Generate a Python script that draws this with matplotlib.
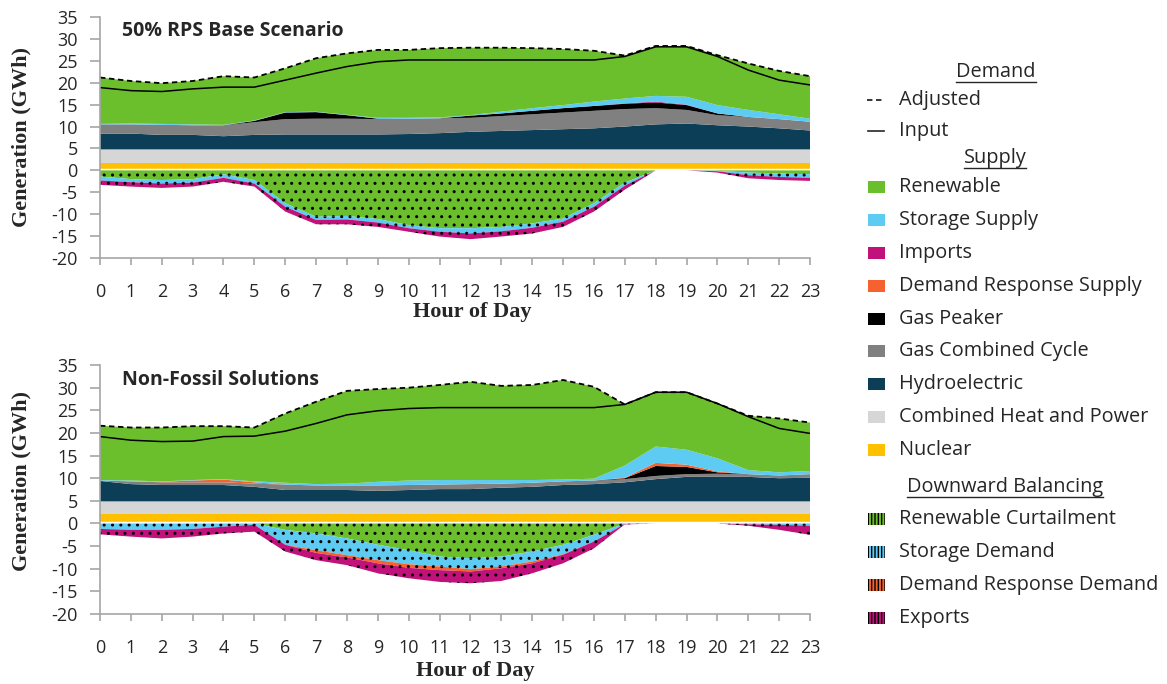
import numpy as np
import matplotlib.pyplot as plt
from matplotlib.patches import Rectangle
from matplotlib.lines import Line2D

plt.rcParams['font.family'] = ['Open Sans', 'DejaVu Sans']
plt.rcParams['axes.unicode_minus'] = False
plt.rcParams['hatch.linewidth'] = 1.0

hours = np.arange(24)

# ---- 50% RPS Base Scenario (GWh) ----
base_nuclear = [1.7] * 24
base_chp = [3.1] * 24
base_hydro = [3.6, 3.6, 3.3, 3.3, 3.0, 3.3, 3.4, 3.4, 3.4, 3.4, 3.5, 3.7,
              4.0, 4.2, 4.4, 4.6, 4.8, 5.2, 5.7, 5.9, 5.5, 5.2, 4.8, 4.3]
base_gas_cc = [2.1, 2.1, 2.3, 2.2, 2.5, 2.9, 3.5, 3.6, 3.6, 3.5, 3.5, 3.4,
               3.2, 3.4, 3.6, 3.8, 4.0, 4.0, 3.7, 3.1, 2.3, 2.2, 2.1, 2.0]
base_peaker = [0, 0, 0, 0, 0, 0.3, 1.5, 1.5, 0.8, 0.1, 0, 0,
               0.5, 0.6, 0.8, 1.0, 1.1, 1.2, 1.3, 1.1, 0.4, 0, 0, 0]
base_dr_supply = [0] * 24
base_imports = [0, 0, 0, 0, 0, 0, 0, 0, 0, 0, 0, 0,
                0, 0, 0, 0, 0, 0.1, 0.2, 0.1, 0, 0, 0, 0]
base_storage = [0.1, 0.2, 0.2, 0.2, 0.1, 0.1, 0.1, 0.1, 0.1, 0.2, 0.2, 0.2,
                0.1, 0.4, 0.6, 0.7, 1.0, 1.1, 1.3, 1.8, 1.9, 1.6, 1.1, 0.7]
base_renewable = [10.6, 9.7, 9.3, 9.9, 11.1, 9.8, 10.0, 12.2, 14.0, 15.5, 15.5, 15.8,
                  15.4, 14.6, 13.7, 12.8, 11.6, 9.8, 11.4, 11.6, 11.4, 10.6, 9.9, 9.7]
base_curtail = [1.4, 2.0, 2.2, 2.0, 0.9, 2.2, 7.5, 10.6, 10.4, 11.1, 12.5, 13.2,
                13.2, 12.9, 12.1, 11.0, 7.5, 2.8, 0, 0, 0.1, 0.5, 0.7, 0.9]
base_storage_dem = [0.9, 0.7, 0.8, 0.8, 0.8, 0.8, 0.8, 0.7, 0.8, 0.8, 0.7, 0.8,
                    1.2, 1.0, 1.0, 0.7, 0.8, 0.7, 0, 0, 0.1, 0.6, 0.8, 0.8]
base_dr_dem = [0] * 24
base_exports = [1.0, 1.0, 1.0, 0.9, 0.9, 0.7, 1.1, 1.0, 1.1, 1.0, 0.8, 1.1,
                1.3, 1.2, 1.3, 1.2, 1.1, 0.9, 0, 0, 0.3, 0.7, 0.7, 0.7]
base_adjusted = [21.2, 20.4, 19.9, 20.4, 21.5, 21.2, 23.3, 25.6, 26.7, 27.5, 27.5, 27.9,
                 28.0, 28.0, 27.9, 27.7, 27.3, 26.2, 28.4, 28.4, 26.3, 24.4, 22.7, 21.5]
base_input = [18.9, 18.2, 18.0, 18.6, 19.0, 19.0, 20.6, 22.2, 23.7, 24.8, 25.2, 25.2,
              25.2, 25.2, 25.2, 25.2, 25.2, 26.0, 28.2, 28.2, 26.0, 22.9, 20.6, 19.5]

# ---- Non-Fossil Solutions (GWh) ----
nf_nuclear = [2.0] * 24
nf_chp = [2.9] * 24
nf_hydro = [4.5, 3.8, 3.6, 3.6, 3.6, 3.2, 2.5, 2.5, 2.5, 2.3, 2.5, 2.7,
            2.7, 3.0, 3.2, 3.6, 3.8, 4.2, 4.9, 5.4, 5.4, 5.4, 5.1, 5.2]
nf_gas_cc = [0.1, 0.6, 0.6, 0.6, 0.6, 0.7, 1.2, 1.0, 1.0, 1.2, 1.1, 1.0,
             1.1, 0.9, 0.9, 0.8, 0.8, 0.7, 0.7, 0.6, 0.7, 0.6, 0.6, 0.8]
nf_peaker = [0, 0, 0, 0, 0, 0, 0, 0, 0, 0, 0, 0,
             0, 0, 0, 0, 0, 0.2, 2.2, 1.6, 0.3, 0, 0, 0]
nf_dr_supply = [0, 0, 0.1, 0.4, 0.6, 0.3, 0, 0, 0, 0, 0, 0,
                0, 0, 0, 0, 0, 0.1, 0.7, 0.5, 0.2, 0, 0, 0]
nf_imports = [0] * 24
nf_storage = [0.1, 0.2, 0.1, 0.1, 0.1, 0.2, 0.4, 0.3, 0.4, 0.8, 1.0, 1.0,
              0.9, 0.8, 0.6, 0.4, 0.4, 2.7, 3.6, 3.3, 2.9, 0.9, 0.7, 0.7]
nf_renewable = [12.0, 11.7, 11.9, 11.9, 11.7, 11.9, 15.3, 18.2, 20.5, 20.5, 20.5, 21.0,
                21.7, 20.8, 21.0, 22.0, 20.3, 13.5, 12.0, 12.7, 12.1, 12.0, 11.9, 10.7]
nf_curtail = [0, 0, 0, 0, 0, 0, 1.4, 2.2, 3.3, 4.7, 5.9, 7.3,
              7.7, 7.3, 6.2, 4.7, 2.5, 0, 0, 0, 0, 0, 0, 0]
nf_storage_dem = [1.2, 1.4, 1.4, 1.2, 0.7, 0.3, 3.3, 3.7, 3.7, 3.4, 3.1, 2.2,
                  2.4, 2.2, 2.2, 2.1, 1.5, 0.1, 0, 0, 0, 0.2, 0.3, 0.5]
nf_dr_dem = [0, 0, 0, 0, 0, 0, 0, 0.6, 0.5, 0.7, 0.8, 0.8,
             0.5, 0.4, 0.4, 0.1, 0, 0, 0, 0, 0, 0, 0, 0]
nf_exports = [1.2, 1.5, 1.9, 1.7, 1.5, 1.5, 1.5, 1.6, 1.7, 2.2, 2.3, 2.6,
              2.6, 2.8, 2.2, 1.9, 1.5, 0.1, 0, 0, 0, 0.3, 1.1, 2.0]
nf_adjusted = [21.6, 21.2, 21.2, 21.5, 21.5, 21.2, 24.3, 26.9, 29.3, 29.7, 30.0, 30.6,
               31.3, 30.4, 30.6, 31.7, 30.2, 26.3, 29.0, 29.0, 26.5, 23.8, 23.2, 22.3]
nf_input = [19.2, 18.4, 18.1, 18.2, 19.2, 19.3, 20.4, 22.1, 24.0, 24.9, 25.4, 25.6,
            25.6, 25.6, 25.6, 25.6, 25.6, 26.3, 29.0, 29.0, 26.5, 23.6, 21.0, 19.9]

supply_labels = ['Renewable', 'Storage Supply', 'Imports', 'Demand Response Supply',
                 'Gas Peaker', 'Gas Combined Cycle', 'Hydroelectric',
                 'Combined Heat and Power', 'Nuclear']
supply_colors = ['#6CBF2C', '#5DCBF2', '#C0127A', '#F5622F', '#000000',
                 '#808080', '#0C3F57', '#D6D6D6', '#FFC000']
down_labels = ['Renewable Curtailment', 'Storage Demand',
               'Demand Response Demand', 'Exports']
down_colors = ['#6CBF2C', '#5DCBF2', '#F5622F', '#C0127A']

TXT = '#262626'
AXC = '#A6A6A6'


def draw_panel(ax, supply, down, adjusted, demand_input, title, ylab_y, xlab_pos):
    # supply listed top-down like the legend, stack from the bottom
    base = np.zeros(24)
    for vals, col in reversed(list(zip(supply, supply_colors))):
        top = base + np.array(vals)
        ax.fill_between(hours, base, top, facecolor=col, edgecolor='none', lw=0)
        base = top
    ax.axhline(0, color='white', lw=2.5, zorder=1.5)
    base = np.zeros(24)
    for vals, col in zip(down, down_colors):
        bot = base - np.array(vals)
        ax.fill_between(hours, base, bot, facecolor=col, edgecolor='black',
                        lw=0, hatch='..', zorder=1.6)
        base = bot
    ax.plot(hours, adjusted, color='black', lw=1.3, ls=(0, (3, 2)))
    ax.plot(hours, demand_input, color='black', lw=1.1)

    ax.set_xlim(0, 23)
    ax.set_ylim(-20, 35)
    ax.set_xticks(hours)
    ax.set_yticks(np.arange(-20, 36, 5))
    for s in ['top', 'right']:
        ax.spines[s].set_visible(False)
    for s in ['left', 'bottom']:
        ax.spines[s].set_color(AXC)
        ax.spines[s].set_linewidth(1.2)
    ax.tick_params(axis='x', direction='out', length=5, width=1.2, color=AXC,
                   labelsize=13, labelcolor=TXT, pad=13)
    ax.tick_params(axis='y', direction='out', length=7, width=1.2, color=AXC,
                   labelsize=13, labelcolor=TXT, pad=9)
    ax.set_xlabel('Hour of Day', family='Liberation Serif', weight='bold',
                  fontsize=16, color=TXT, labelpad=0)
    ax.xaxis.set_label_coords(*xlab_pos)
    ax.set_ylabel('Generation (GWh)', family='Liberation Serif', weight='bold',
                  fontsize=16, color=TXT)
    ax.yaxis.set_label_coords(-0.096, ylab_y)
    ax.text(0.031, 0.94, title, transform=ax.transAxes, fontsize=14,
            weight='bold', color=TXT, va='center', ha='left')


fig = plt.figure(figsize=(11.67, 6.84), dpi=100)
ax1 = fig.add_axes([0.0857, 0.6228, 0.6084, 0.3523])
ax2 = fig.add_axes([0.0857, 0.1023, 0.6084, 0.3640])

draw_panel(ax1,
           [base_renewable, base_storage, base_imports, base_dr_supply, base_peaker,
            base_gas_cc, base_hydro, base_chp, base_nuclear],
           [base_curtail, base_storage_dem, base_dr_dem, base_exports],
           base_adjusted, base_input, '50% RPS Base Scenario', 0.504, (0.524, -0.182))
draw_panel(ax2,
           [nf_renewable, nf_storage, nf_imports, nf_dr_supply, nf_peaker,
            nf_gas_cc, nf_hydro, nf_chp, nf_nuclear],
           [nf_curtail, nf_storage_dem, nf_dr_dem, nf_exports],
           nf_adjusted, nf_input, 'Non-Fossil Solutions', 0.534, (0.528, -0.19))

# ---- hand-built legend on the right (pixel layout) ----
W, H = 1167.0, 684.0


def fx(x):
    return x / W


def fy(y):
    return 1 - y / H


renderer = fig.canvas.get_renderer()
LFS = 14.3


def header(text, xc, y):
    t = fig.text(fx(xc), fy(y), text, ha='center', va='center', fontsize=LFS, color=TXT)
    bb = t.get_window_extent(renderer)
    fig.add_artist(Line2D([fx(bb.x0), fx(bb.x1)], [fy(y + 10), fy(y + 10)],
                          transform=fig.transFigure, color=TXT, lw=1))


def entry_text(text, y):
    fig.text(fx(899), fy(y), text, ha='left', va='center', fontsize=LFS, color=TXT)


def swatch(col, y, hatch=None):
    fig.add_artist(Rectangle((fx(868), fy(y + 6)), 17 / W, 12 / H,
                             transform=fig.transFigure, facecolor=col,
                             edgecolor='black' if hatch else 'none', lw=0,
                             hatch=hatch))


header('Demand', 996, 72)
fig.add_artist(Line2D([fx(867), fx(884)], [fy(100), fy(100)], transform=fig.transFigure,
                      color=TXT, lw=1.3, ls=(0, (3, 2))))
entry_text('Adjusted', 100)
fig.add_artist(Line2D([fx(868), fx(884)], [fy(131), fy(131)], transform=fig.transFigure,
                      color=TXT, lw=1.2))
entry_text('Input', 131)
header('Supply', 995, 158)
y = 187
for lab, col in zip(supply_labels, supply_colors):
    swatch(col, y)
    entry_text(lab, y)
    y += 32.9
header('Downward Balancing', 1005, 487)
y = 519
for lab, col in zip(down_labels, down_colors):
    swatch(col, y, hatch='|||||')
    entry_text(lab, y)
    y += 33

fig.savefig('out.png', dpi=100)
